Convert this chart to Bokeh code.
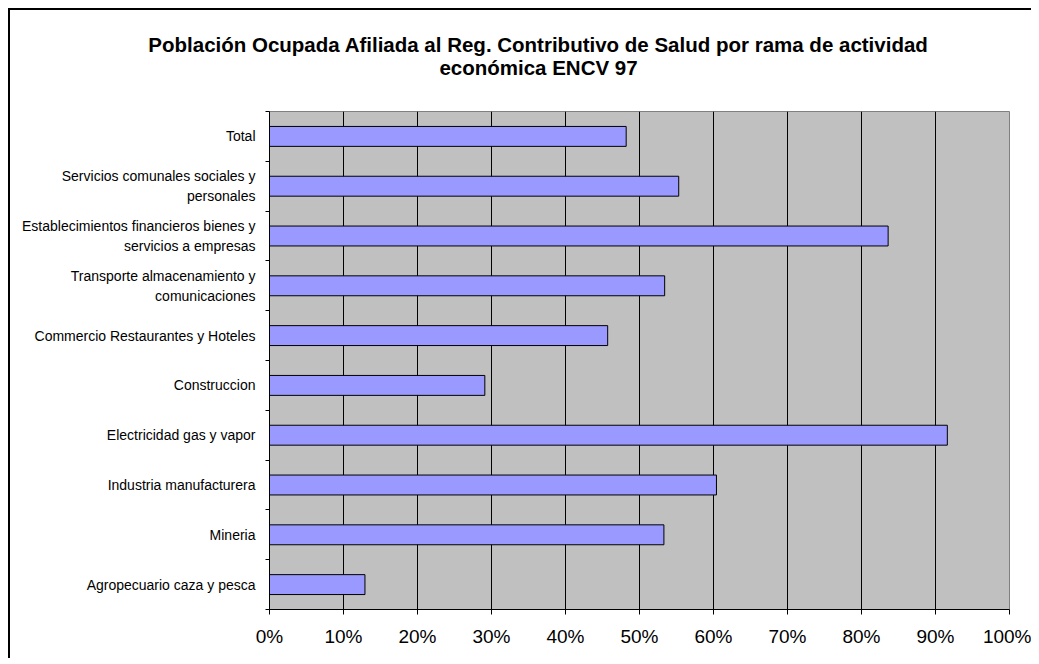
from bokeh.plotting import figure
from bokeh.models import FixedTicker, PrintfTickFormatter, Range1d, Title
from bokeh.embed import file_html
from bokeh.resources import INLINE

# ---------------- data ----------------
title_lines = [
    "Población Ocupada Afiliada al Reg. Contributivo de Salud por rama de actividad",
    "económica ENCV 97",
]
categories = [
    "Total",
    "Servicios comunales sociales y\npersonales",
    "Establecimientos financieros bienes y\nservicios a empresas",
    "Transporte almacenamiento y\ncomunicaciones",
    "Commercio Restaurantes y Hoteles",
    "Construccion",
    "Electricidad gas y vapor",
    "Industria manufacturera",
    "Mineria",
    "Agropecuario caza y pesca",
]
values = [48.2, 55.3, 83.6, 53.4, 45.7, 29.1, 91.6, 60.4, 53.3, 12.9]
x_ticks = [0, 10, 20, 30, 40, 50, 60, 70, 80, 90, 100]

# Arial Bold (= Liberation Sans Bold) advance widths per 1000 em, to centre the title lines
BOLD = {" ": 278, "a": 556, "b": 611, "c": 556, "d": 611, "e": 556, "f": 333, "g": 611,
        "h": 611, "i": 278, "l": 278, "m": 889, "n": 611, "o": 611, "p": 611, "r": 389,
        "s": 556, "t": 333, "u": 611, "v": 556, "ó": 611, "A": 722, "C": 722, "E": 667,
        "N": 722, "O": 778, "P": 667, "R": 722, "S": 667, "V": 667, ".": 278}


def bold_width(s, size):
    return sum(BOLD.get(ch, 556) for ch in s) * size / 1000.0


FONT = "Liberation Sans"
TITLE_SIZE = 20.5
TITLE_CENTER = 538 - 269   # title centre relative to the plot-frame left edge
n = len(categories)
ys = [n - i - 0.5 for i in range(n)]
bounds = list(range(n + 1))

W, H = 1023, 650
p = figure(width=W, height=H, output_backend="svg", toolbar_location=None,
           x_range=Range1d(0, 100), y_range=Range1d(0, n),
           min_border_left=259, min_border_right=24,
           min_border_top=101, min_border_bottom=51)
p.title.visible = False
p.styles = {"border-left": "2px solid #000000", "border-top": "2px solid #000000",
            "margin-left": "8px", "margin-top": "8px"}

p.background_fill_color = "#C0C0C0"
p.border_fill_color = "white"
p.outline_line_color = "#808080"
p.outline_line_width = 1

# bars
p.hbar(y=ys, right=values, left=0, height=0.4,
       fill_color="#9999FF", line_color="black", line_width=1)

# x axis
xa = p.xaxis[0]
xa.ticker = FixedTicker(ticks=x_ticks)
xa.formatter = PrintfTickFormatter(format="%d%%")
xa.major_label_text_font = FONT
xa.major_label_text_font_size = "19px"
xa.major_label_text_color = "black"
xa.major_label_standoff = 11
xa.major_tick_out = 5
xa.major_tick_in = 0
xa.minor_tick_line_color = None
xa.axis_line_color = "black"
xa.major_tick_line_color = "black"

# y axis: labels at band centres, tick marks at band boundaries
ya = p.yaxis[0]
ya.ticker = FixedTicker(ticks=ys, minor_ticks=bounds)
ya.major_label_overrides = {y: c for y, c in zip(ys, categories)}
ya.major_label_text_font = FONT
ya.major_label_text_font_size = "14px"
ya.major_label_text_color = "black"
ya.major_label_text_line_height = 1.27
ya.major_label_standoff = 10
ya.major_tick_line_color = None
ya.major_tick_out = 0
ya.major_tick_in = 0
ya.minor_tick_line_color = "black"
ya.minor_tick_out = 4
ya.minor_tick_in = 0
ya.axis_line_color = "black"

# grid
p.xgrid.ticker = FixedTicker(ticks=x_ticks[1:-1])
p.xgrid.grid_line_color = "black"
p.xgrid.grid_line_width = 1
p.ygrid.visible = False

# title: spacer next to the frame, then line 2, then line 1
p.add_layout(Title(text=" ", text_font_size="1px", standoff=30), "above")
for text, so in [(title_lines[1], 0), (title_lines[0], -4)]:
    off = TITLE_CENTER - bold_width(text, TITLE_SIZE) / 2.0
    p.add_layout(Title(text=text, align="left", offset=off, standoff=so,
                       text_font=FONT, text_font_size=f"{TITLE_SIZE}px",
                       text_font_style="bold", text_color="black"), "above")

open("out.html", "w").write(file_html(p, INLINE))
